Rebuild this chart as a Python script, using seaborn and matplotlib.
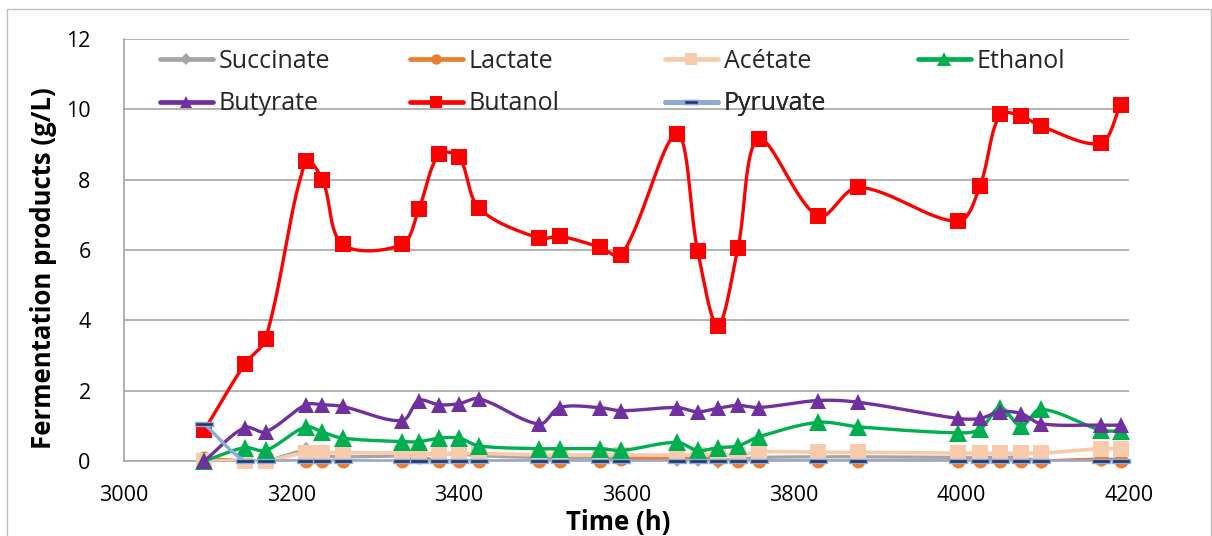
import numpy as np
import matplotlib
matplotlib.use("Agg")
import matplotlib.pyplot as plt
import seaborn as sns
from matplotlib.path import Path
from matplotlib.lines import Line2D
from matplotlib.patches import Rectangle

# ---------------- data ----------------
time_h = [3096, 3144, 3169, 3217, 3237, 3261, 3332, 3352, 3376, 3400, 3424,
          3496, 3520, 3568, 3594, 3660, 3685, 3709, 3733, 3758, 3829, 3877,
          3996, 4022, 4046, 4071, 4095, 4166, 4190]

succinate = [0.0, 0.0, 0.0, 0.30, 0.15, 0.12, 0.15, 0.20, 0.20, 0.20, 0.15,
             0.10, 0.10, 0.10, 0.10, 0.05, 0.05, 0.0, 0.05, 0.10, 0.12, 0.12,
             0.10, 0.10, 0.10, 0.10, 0.0, 0.05, 0.05]
lactate = [0.08, 0.0, 0.0, 0.0, 0.0, 0.0, 0.0, 0.10, 0.0, 0.0, 0.0,
           0.0, 0.0, 0.0, 0.05, 0.10, 0.10, 0.05, 0.0, 0.0, 0.0, 0.0,
           0.0, 0.0, 0.0, 0.0, 0.0, 0.05, 0.0]
acetate = [0.0, 0.0, 0.0, 0.24, 0.24, 0.24, 0.22, 0.22, 0.22, 0.22, 0.22,
           0.17, 0.17, 0.17, 0.17, 0.17, 0.17, 0.17, 0.17, 0.26, 0.25, 0.25,
           0.22, 0.22, 0.22, 0.22, 0.22, 0.35, 0.35]
ethanol = [0.0, 0.38, 0.30, 0.97, 0.82, 0.65, 0.55, 0.55, 0.65, 0.65, 0.43,
           0.35, 0.35, 0.35, 0.30, 0.53, 0.30, 0.38, 0.43, 0.69, 1.10, 0.97,
           0.80, 0.90, 1.52, 1.00, 1.47, 0.88, 0.85]
butyrate = [0.0, 0.95, 0.83, 1.60, 1.60, 1.55, 1.15, 1.72, 1.60, 1.63, 1.77,
            1.05, 1.52, 1.52, 1.43, 1.52, 1.40, 1.50, 1.58, 1.52, 1.72, 1.67,
            1.21, 1.21, 1.40, 1.35, 1.06, 1.02, 1.02]
butanol = [0.88, 2.75, 3.47, 8.53, 8.00, 6.16, 6.16, 7.16, 8.72, 8.64, 7.19,
           6.33, 6.39, 6.08, 5.85, 9.29, 5.97, 3.84, 6.05, 9.15, 6.96, 7.78,
           6.82, 7.82, 9.86, 9.81, 9.52, 9.04, 10.12]
pyruvate = [1.05, 0.0, 0.0, 0.0, 0.0, 0.0, 0.0, 0.0, 0.0, 0.0, 0.0,
            0.0, 0.0, 0.0, 0.0, 0.0, 0.0, 0.0, 0.0, 0.0, 0.0, 0.0,
            0.0, 0.0, 0.0, 0.0, 0.0, 0.0, 0.0]

series_names = ["Succinate", "Lactate", "Acétate", "Ethanol", "Butyrate", "Butanol", "Pyruvate"]
series_values = [succinate, lactate, acetate, ethanol, butyrate, butanol, pyruvate]

x_ticks = [3000, 3200, 3400, 3600, 3800, 4000, 4200]
y_ticks = [0, 2, 4, 6, 8, 10, 12]

# ---------------- styles ----------------
dash_marker = Path([(-1, -0.24), (1, -0.24), (1, 0.24), (-1, 0.24), (-1, -0.24)],
                   [Path.MOVETO, Path.LINETO, Path.LINETO, Path.LINETO, Path.CLOSEPOLY])
styles = [
    dict(color="#A5A5A5", marker="D", ms=8, mfc="#A5A5A5", mec="#A5A5A5", mew=0, lw=2.4),
    dict(color="#ED7D31", marker="o", ms=10, mfc="#ED7D31", mec="#ED7D31", mew=0, lw=2.4),
    dict(color="#F8CBAD", marker="s", ms=11, mfc="#F8CBAD", mec="#F8CBAD", mew=0, lw=2.7),
    dict(color="#00B050", marker="^", ms=12.5, mfc="#00B050", mec="#00B050", mew=0, lw=2.4),
    dict(color="#7030A0", marker="^", ms=11.5, mfc="#7030A0", mec="#7030A0", mew=0, lw=2.4),
    dict(color="#FF0000", marker="s", ms=11.5, mfc="#FF0000", mec="#FF0000", mew=0, lw=2.4),
    dict(color="#8EA9DB", marker=dash_marker, ms=13, mfc="#203864", mec="#8EA9DB", mew=1.0, lw=2.4),
]

PX_PER_H = 1005 / 1200.0
PX_PER_UNIT = 422 / 12.0


def smooth_curve(xs, ys, n=30):
    """Smoothed line through the points (Bezier, tangents from neighbours,
    scaled by segment length in screen space to avoid overshoot)."""
    P = np.column_stack([np.asarray(xs, float) * PX_PER_H,
                         np.asarray(ys, float) * PX_PER_UNIT])
    m = len(P)
    out = []
    for i in range(m - 1):
        p0 = P[i - 1] if i > 0 else P[i]
        p1, p2 = P[i], P[i + 1]
        p3 = P[i + 2] if i + 2 < m else P[i + 1]
        d01 = np.linalg.norm(p1 - p0)
        d12 = np.linalg.norm(p2 - p1)
        d23 = np.linalg.norm(p3 - p2)
        c1 = p1 + (p2 - p0) * (d12 / max(d01 + d12, 1e-9)) / 3.0
        c2 = p2 - (p3 - p1) * (d12 / max(d12 + d23, 1e-9)) / 3.0
        t = np.linspace(0, 1, n, endpoint=(i == m - 2))[:, None]
        B = ((1 - t) ** 3) * p1 + 3 * ((1 - t) ** 2) * t * c1 + 3 * (1 - t) * (t ** 2) * c2 + (t ** 3) * p2
        out.append(B)
    out = np.vstack(out)
    return out[:, 0] / PX_PER_H, out[:, 1] / PX_PER_UNIT


# ---------------- figure ----------------
sns.set_style("white")
plt.rcParams["font.family"] = ["Open Sans", "DejaVu Sans"]

fig = plt.figure(figsize=(12.12, 5.36), dpi=100)
ax = fig.add_axes([124 / 1212, 75 / 536, 1005 / 1212, 422 / 536])

grid_c = "#A6A6A6"
for i, (name, vals, st) in enumerate(zip(series_names, series_values, styles)):
    cx, cy = smooth_curve(time_h, vals)
    z = 3 + i
    sns.lineplot(x=cx, y=cy, sort=False, estimator=None, color=st["color"],
                 linewidth=st["lw"], ax=ax, zorder=z, legend=False)
    sns.lineplot(x=time_h, y=vals, sort=False, estimator=None, linestyle="",
                 marker=st["marker"], markersize=st["ms"], markerfacecolor=st["mfc"],
                 markeredgecolor=st["mec"], markeredgewidth=st["mew"],
                 color=st["color"], ax=ax, zorder=z + 0.5, legend=False, clip_on=False)

ax.set_xlim(3000, 4200)
ax.set_ylim(0, 12)
ax.set_xticks(x_ticks)
ax.set_yticks(y_ticks)
ax.set_xticklabels([str(v) for v in x_ticks])
ax.set_yticklabels([str(v) for v in y_ticks])
ax.tick_params(axis="both", length=0, labelsize=15.5, colors="black")
ax.tick_params(axis="y", pad=24)
ax.tick_params(axis="x", pad=17)
ax.yaxis.grid(True, color=grid_c, linewidth=1.2)
ax.xaxis.grid(False)
ax.set_axisbelow(True)
for s in ["top", "right"]:
    ax.spines[s].set_visible(False)
for s in ["left", "bottom"]:
    ax.spines[s].set_color(grid_c)
    ax.spines[s].set_linewidth(1.2)
    ax.spines[s].set_zorder(2.5)

ax.set_xlabel("Time (h)", fontsize=18.5, fontweight="bold", color="black")
ax.set_ylabel("Fermentation products (g/L)", fontsize=18.5, fontweight="bold", color="black")
ax.xaxis.set_label_coords((618 - 124) / 1005, (461 - 509) / 422)
ax.yaxis.set_label_coords((57 - 124) / 1005, (461 - 268) / 422)

# legend: entries placed like the Excel legend grid (4 columns, 2 rows)
col_x = [(160 - 124) / 1005, (410 - 124) / 1005, (665 - 124) / 1005, (918 - 124) / 1005]
row_y = [(461 - 61) / 422, (461 - 104) / 422]
for k, (name, st) in enumerate(zip(series_names, styles)):
    h = Line2D([0], [0], color=st["color"], lw=3.4, marker=st["marker"],
               markersize=st["ms"] * 0.75, markerfacecolor=st["mfc"],
               markeredgecolor=st["mec"], markeredgewidth=st["mew"])
    leg = ax.legend([h], [name], loc="center left",
                    bbox_to_anchor=(col_x[k % 4], row_y[k // 4]),
                    frameon=False, fontsize=18, handlelength=2.1, handletextpad=0.25,
                    borderpad=0, borderaxespad=0)
    ax.add_artist(leg)

# chart-area border
fig.patches.append(Rectangle((7 / 1212, -0.01), 1 - 8 / 1212, 1.01 - 9 / 536,
                             transform=fig.transFigure, fill=False,
                             edgecolor="#BFBFBF", linewidth=1.0))

fig.savefig("out.png", dpi=100)
